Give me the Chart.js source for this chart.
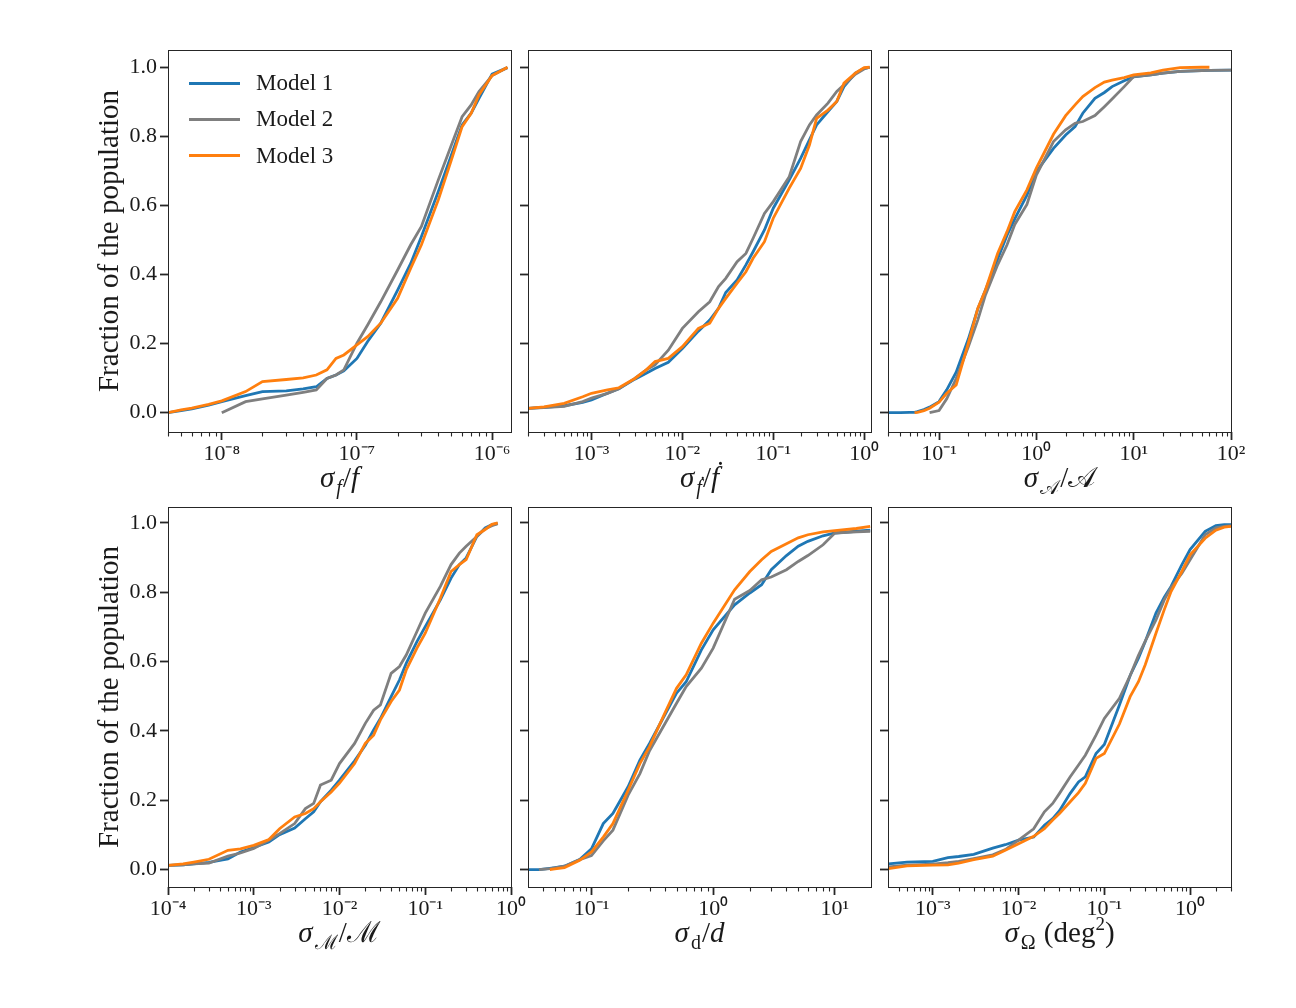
<!DOCTYPE html>
<html><head><meta charset="utf-8">
<script src="https://cdn.jsdelivr.net/npm/chart.js@4.4.1/dist/chart.umd.min.js"></script>
<style>
html,body{margin:0;padding:0;background:#fff;}
body{width:1296px;height:1008px;position:relative;overflow:hidden;font-family:"Liberation Serif","DejaVu Serif",serif;color:#1a1a1a;}
canvas{position:absolute;}
.xt{position:absolute;font-size:29px;line-height:1;white-space:nowrap;transform:translateX(-50%);}
.xt sub{font-size:20px;vertical-align:-7px;line-height:0;margin-left:2px;margin-right:1px;}
.xt sup{font-size:19px;vertical-align:12px;line-height:0;}
.leg{position:absolute;font-size:23px;line-height:1;white-space:nowrap;}
.legline{position:absolute;height:3px;width:51px;}
</style>
</head><body>
<script>
// ---------- data ----------
const modelNames = ['Model 1','Model 2','Model 3'];
const modelColors = ['#1f77b4','#7f7f7f','#ff7f0e'];
const yTickValues = [0.0,0.2,0.4,0.6,0.8,1.0];

// panel 1: sigma_f / f
const p1x  = [4.0e-9,5e-9,6e-9,8e-9,1e-8,1.5e-8,2e-8,3e-8,4e-8,5e-8,6e-8,7e-8,8e-8,1e-7,1.2e-7,1.5e-7,2e-7,2.5e-7,3e-7,4e-7,5e-7,6e-7,7e-7,8e-7,1e-6,1.3e-6];
const p1m1 = [0.000,0.006,0.011,0.022,0.032,0.049,0.061,0.063,0.069,0.075,0.099,0.109,0.121,0.157,0.206,0.259,0.355,0.432,0.510,0.640,0.746,0.833,0.867,0.910,0.980,0.999];
const p1m2 = [null,null,null,null,0.000,0.032,0.040,0.051,0.059,0.066,0.099,0.109,0.124,0.201,0.254,0.321,0.413,0.486,0.539,0.674,0.775,0.857,0.891,0.930,0.976,0.999];
const p1m3 = [0.000,0.008,0.013,0.024,0.034,0.061,0.090,0.096,0.101,0.109,0.124,0.157,0.167,0.196,0.220,0.259,0.331,0.418,0.486,0.616,0.732,0.828,0.867,0.920,0.976,1.000];

// panel 2: sigma_fdot / fdot
const p2x  = [2.0e-4,3e-4,5e-4,8e-4,1e-3,1.5e-3,2e-3,3e-3,4e-3,5e-3,7e-3,1e-2,1.5e-2,2e-2,2.5e-2,3e-2,4e-2,5e-2,6e-2,8e-2,0.1,0.15,0.2,0.25,0.3,0.4,0.5,0.6,0.8,1.0,1.15];
const p2m1 = [0.0125,0.015,0.020,0.030,0.037,0.056,0.069,0.097,0.114,0.128,0.146,0.186,0.236,0.268,0.302,0.348,0.384,0.428,0.466,0.529,0.592,0.674,0.736,0.790,0.833,0.872,0.901,0.944,0.983,0.997,1.000];
const p2m2 = [0.0125,0.015,0.018,0.032,0.042,0.056,0.069,0.099,0.124,0.138,0.181,0.244,0.292,0.321,0.365,0.389,0.437,0.461,0.505,0.577,0.611,0.683,0.785,0.833,0.862,0.896,0.930,0.949,0.980,0.995,1.000];
const p2m3 = [0.0125,0.017,0.027,0.046,0.056,0.066,0.072,0.099,0.124,0.148,0.157,0.191,0.244,0.259,0.302,0.331,0.375,0.408,0.447,0.495,0.563,0.650,0.707,0.775,0.852,0.876,0.901,0.954,0.983,0.999,1.000];

// panel 3: sigma_A / A
const p3x  = [0.03,0.04,0.05,0.056,0.06,0.07,0.08,0.1,0.12,0.15,0.2,0.25,0.3,0.4,0.5,0.6,0.8,1,1.5,2,2.5,3,4,5,6,8,10,15,20,30,50,60,100];
const p3m1 = [0.000,0.000,0.001,0.001,0.003,0.009,0.016,0.032,0.066,0.117,0.213,0.300,0.355,0.445,0.514,0.561,0.630,0.698,0.765,0.804,0.828,0.867,0.910,0.927,0.944,0.961,0.972,0.978,0.983,0.988,0.990,0.991,0.992];
const p3m2 = [null,null,null,null,null,null,0.000,0.006,0.040,0.099,0.191,0.268,0.341,0.428,0.486,0.545,0.603,0.688,0.785,0.819,0.838,0.843,0.860,0.886,0.908,0.944,0.973,0.978,0.983,0.988,0.990,0.991,0.992];
const p3m3 = [null,null,null,0.000,0.001,0.006,0.013,0.030,0.056,0.080,0.201,0.302,0.355,0.461,0.524,0.582,0.645,0.708,0.806,0.860,0.891,0.915,0.941,0.957,0.963,0.970,0.978,0.984,0.992,0.999,1.000,1.000,null];

// panel 4: sigma_M / M
const p4x  = [1e-4,1.5e-4,2e-4,3e-4,5e-4,7e-4,1e-3,1.5e-3,2e-3,3e-3,4e-3,5e-3,6e-3,8e-3,1e-2,1.5e-2,2e-2,2.5e-2,3e-2,4e-2,5e-2,6e-2,8e-2,0.1,0.15,0.2,0.25,0.3,0.4,0.5,0.6,0.7];
const p4m1 = [0.0125,0.014,0.017,0.021,0.031,0.051,0.064,0.080,0.101,0.120,0.147,0.167,0.196,0.229,0.258,0.314,0.359,0.403,0.436,0.499,0.547,0.595,0.658,0.701,0.778,0.841,0.880,0.899,0.961,0.986,0.995,0.998];
const p4m2 = [0.0125,0.014,0.017,0.019,0.039,0.048,0.061,0.085,0.104,0.133,0.176,0.191,0.244,0.258,0.306,0.364,0.422,0.460,0.475,0.566,0.586,0.619,0.687,0.740,0.817,0.880,0.913,0.933,0.961,0.983,0.992,0.998];
const p4m3 = [0.0125,0.017,0.022,0.030,0.056,0.060,0.070,0.087,0.118,0.152,0.162,0.176,0.196,0.224,0.250,0.306,0.364,0.388,0.432,0.485,0.518,0.576,0.639,0.682,0.783,0.860,0.880,0.894,0.966,0.981,0.996,1.000];

// panel 5: sigma_d / d
const p5x  = [0.03,0.037,0.0455,0.05,0.06,0.08,0.1,0.125,0.15,0.2,0.25,0.3,0.4,0.5,0.6,0.8,1,1.5,2,2.5,3,4,5,6,8,10,15,19.5];
const p5m1 = [0.000,0.000,0.004,0.006,0.010,0.029,0.060,0.133,0.162,0.239,0.316,0.364,0.446,0.509,0.542,0.634,0.692,0.764,0.798,0.822,0.865,0.906,0.933,0.947,0.963,0.971,0.976,0.979];
const p5m2 = [null,0.000,0.003,0.005,0.010,0.029,0.041,0.083,0.114,0.215,0.277,0.343,0.420,0.480,0.528,0.581,0.639,0.780,0.805,0.836,0.844,0.865,0.889,0.906,0.937,0.971,0.974,0.976];
const p5m3 = [null,null,0.000,0.002,0.006,0.027,0.051,0.094,0.133,0.229,0.306,0.355,0.451,0.523,0.562,0.653,0.711,0.807,0.860,0.894,0.918,0.940,0.957,0.966,0.974,0.978,0.984,0.990];

// panel 6: sigma_Omega (deg^2)
const p6x  = [3.04e-4,5e-4,1e-3,1.5e-3,2e-3,3e-3,5e-3,7e-3,1e-2,1.5e-2,2e-2,2.5e-2,3e-2,4e-2,5e-2,6e-2,8e-2,0.1,0.15,0.2,0.25,0.3,0.4,0.5,0.6,0.8,1,1.5,2,2.5,3];
const p6m1 = [0.017,0.022,0.024,0.035,0.038,0.044,0.062,0.072,0.085,0.094,0.128,0.147,0.170,0.220,0.253,0.268,0.335,0.361,0.475,0.560,0.610,0.658,0.740,0.786,0.817,0.879,0.923,0.976,0.992,0.995,0.995];
const p6m2 = [0.008,0.013,0.016,0.020,0.024,0.032,0.043,0.058,0.085,0.118,0.167,0.191,0.220,0.268,0.302,0.330,0.388,0.436,0.494,0.560,0.618,0.659,0.720,0.778,0.814,0.854,0.894,0.966,0.986,0.990,0.992];
const p6m3 = [0.003,0.011,0.013,0.014,0.019,0.029,0.039,0.056,0.075,0.096,0.118,0.143,0.162,0.196,0.222,0.249,0.321,0.335,0.420,0.499,0.542,0.591,0.682,0.750,0.802,0.860,0.908,0.956,0.979,0.988,0.990];

// axis ranges
const xRanges = [[4.0e-9,1.38e-6],[2.0e-4,1.19],[0.0299,100],[1e-4,1],[0.0301,19.8],[3.04e-4,3.0]];
const yRanges = [[-0.056,1.05],[-0.056,1.05],[-0.056,1.05],[-0.05,1.046],[-0.05,1.046],[-0.05,1.046]];

// ---------- layout (page pixels) ----------
const panelBoxes = [
  {left:168,top:50,w:343,h:382,ylab:true},
  {left:528,top:50,w:343,h:382,ylab:false},
  {left:888,top:50,w:343,h:382,ylab:false},
  {left:168,top:507,w:343,h:380,ylab:true},
  {left:528,top:507,w:343,h:380,ylab:false},
  {left:888,top:507,w:343,h:380,ylab:false}
];
const panelX = [p1x,p2x,p3x,p4x,p5x,p6x];
const panelY = [[p1m1,p1m2,p1m3],[p2m1,p2m2,p2m3],[p3m1,p3m2,p3m3],[p4m1,p4m2,p4m3],[p5m1,p5m2,p5m3],[p6m1,p6m2,p6m3]];

const FONT = 'Liberation Serif';
const INK = '#262626';
const SUP = {'-':'\u207B','0':'\u2070','1':'\u00B9','2':'\u00B2','3':'\u00B3','4':'\u2074','5':'\u2075','6':'\u2076','7':'\u2077','8':'\u2078','9':'\u2079'};
function powLabel(v){
  const e = Math.round(Math.log10(v));
  return '10' + String(e).split('').map(c=>SUP[c]).join('');
}
function logTicks(min,max){
  const out=[];
  for(let e=Math.floor(Math.log10(min)); e<=Math.ceil(Math.log10(max)); e++){
    for(let k=1;k<=9;k++){
      const v=k*Math.pow(10,e);
      if(v>=min*0.9999 && v<=max*1.0001) out.push({value:v, major:k===1});
    }
  }
  return out;
}

const framePlugin = {
  id:'frame',
  afterDraw(chart){
    const {ctx, chartArea:a, scales:{x}} = chart;
    ctx.save();
    ctx.strokeStyle = INK;
    ctx.lineWidth = 1.1;
    x.ticks.forEach(t=>{
      if(!t.major){
        const px = Math.round(x.getPixelForValue(t.value)) + 0.5;
        ctx.beginPath(); ctx.moveTo(px, a.bottom); ctx.lineTo(px, a.bottom + 4.5); ctx.stroke();
      }
    });
    ctx.lineWidth = 1;
    ctx.strokeRect(Math.round(a.left)+0.5, Math.round(a.top)+0.5, Math.round(a.right-a.left), Math.round(a.bottom-a.top));
    ctx.restore();
  }
};

panelBoxes.forEach((b,pi)=>{
  const padL = b.ylab ? 80 : 14, padT = 20, padR = 32, padB = 40;
  const cv = document.createElement('canvas');
  const W = b.w + padL + padR, H = b.h + padT + padB;
  cv.width = W; cv.height = H;
  cv.style.left = (b.left - padL) + 'px';
  cv.style.top = (b.top - padT) + 'px';
  cv.style.width = W + 'px'; cv.style.height = H + 'px';
  document.body.appendChild(cv);
  const [xmin,xmax] = xRanges[pi];
  const [ymin,ymax] = yRanges[pi];
  const xs = panelX[pi];
  const datasets = panelY[pi].map((ys,mi)=>({
    label: modelNames[mi],
    data: xs.map((xv,j)=> ys[j]==null ? null : {x:xv, y:ys[j]}).filter(Boolean),
    borderColor: modelColors[mi],
    backgroundColor: modelColors[mi],
    borderWidth: 2.8,
    pointRadius: 0,
    tension: 0,
    fill: false,
    order: 3 - mi
  }));
  new Chart(cv, {
    type:'line',
    data:{datasets},
    options:{
      responsive:false,
      animation:false,
      devicePixelRatio:1,
      layout:{padding:{top:padT,right:padR,left:0,bottom:0}},
      plugins:{legend:{display:false}, tooltip:{enabled:false}},
      scales:{
        x:{
          type:'logarithmic', min:xmin, max:xmax,
          afterFit:s=>{s.height = padB;},
          afterBuildTicks:s=>{s.ticks = logTicks(xmin,xmax);},
          grid:{display:true, drawOnChartArea:false, drawTicks:true, tickLength:8, tickWidth:1.8,
                tickColor:c=> (c.tick && c.tick.major) ? INK : 'rgba(0,0,0,0)'},
          border:{display:false},
          ticks:{autoSkip:false, maxRotation:0, minRotation:0, padding:1, color:'#1a1a1a',
                 font:{family:FONT, size:22},
                 callback:(v,i,t)=> t[i] && t[i].major ? powLabel(v) : ''}
        },
        y:{
          type:'linear', min:ymin, max:ymax,
          afterFit:s=>{s.width = padL;},
          afterBuildTicks:s=>{s.ticks = yTickValues.map(v=>({value:v}));},
          grid:{display:true, drawOnChartArea:false, drawTicks:true, tickLength:8, tickWidth:1.8, tickColor:INK},
          border:{display:false},
          ticks:{display:b.ylab, padding:3, color:'#1a1a1a', font:{family:FONT, size:22},
                 callback:v=>Number(v).toFixed(1)},
          title:{display:b.ylab, text:'Fraction of the population', color:'#1a1a1a',
                 font:{family:FONT, size:29}, padding:{top:5, bottom:0}}
        }
      }
    },
    plugins:[framePlugin]
  });
});

// x-axis titles (HTML text with sub/superscripts)
const xTitles = [
  '<i>σ</i><sub><i>f</i></sub>/<i>f</i>',
  '<i>σ</i><sub><i>ḟ</i></sub>/<i>ḟ</i>',
  '<i>σ</i><sub>𝒜</sub>/𝒜',
  '<i>σ</i><sub>ℳ</sub>/ℳ',
  '<i>σ</i><sub>d</sub>/<i>d</i>',
  '<i>σ</i><sub>Ω</sub> (deg<sup>2</sup>)'
];
xTitles.forEach((t,i)=>{
  const b = panelBoxes[i];
  const d = document.createElement('div');
  d.className = 'xt';
  d.innerHTML = t;
  d.style.left = (b.left + b.w/2) + 'px';
  d.style.top = (b.top + b.h + 31) + 'px';
  document.body.appendChild(d);
});

// legend in panel 1
modelNames.forEach((n,i)=>{
  const y = 83 + i*36.3;
  const ln = document.createElement('div');
  ln.className = 'legline';
  ln.style.left = '189px'; ln.style.top = (y-1.5)+'px';
  ln.style.background = modelColors[i];
  document.body.appendChild(ln);
  const tx = document.createElement('div');
  tx.className = 'leg';
  tx.textContent = n;
  tx.style.left = '256px'; tx.style.top = (y-12)+'px';
  document.body.appendChild(tx);
});
</script>
</body></html>
